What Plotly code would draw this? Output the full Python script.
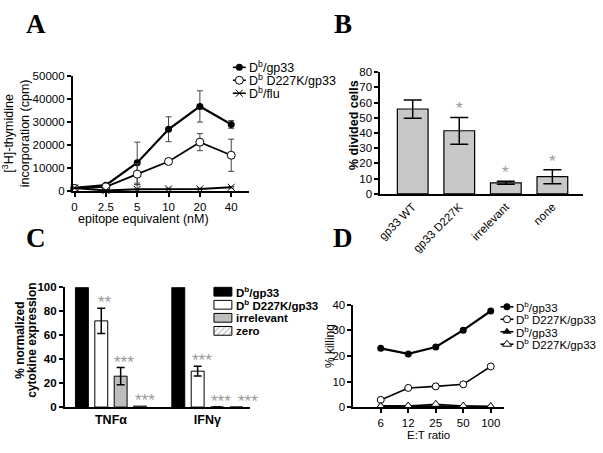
import plotly.graph_objects as go

W, H = 603, 453
FONT = "Liberation Sans, Arial, sans-serif"
SERIF = "Liberation Serif, Times New Roman, serif"
STAR_GRAY = "#9a9a9a"

# ---------------- Panel A data ----------------
A_DOSES = ["0", "2.5", "5", "10", "20", "40"]
A_GP33 = [1400, 2500, 12300, 26800, 36700, 28900]
A_GP33_ERR = [300, 500, 8900, 5400, 6800, 1700]
A_D227K = [1100, 1800, 7300, 12800, 21200, 15500]
A_D227K_ERR = [300, 400, 4500, 1200, 3700, 7000]
A_FLU = [1300, 200, 700, 900, 900, 1600]
A_FLU_ERR = [300, 200, 2000, 300, 300, 300]
A_NAMES = ["D<sup>b</sup>/gp33", "D<sup>b</sup> D227K/gp33", "D<sup>b</sup>/flu"]

# ---------------- Panel B data ----------------
B_LABELS = ["gp33 WT", "gp33 D227K", "irrelevant", "none"]
B_VALUES = [55.8, 41.5, 7.3, 11.3]
B_ERR = [6.0, 8.8, 1.0, 4.6]
B_STARS = ["", "*", "*", "*"]

# ---------------- Panel C data ----------------
C_GROUPS = ["TNF\u03b1", "IFN\u03b3"]
C_NAMES = ["D<sup>b</sup>/gp33", "D<sup>b</sup> D227K/gp33", "irrelevant", "zero"]
C_GP33 = [100, 100]
C_D227K = [72, 30]
C_D227K_ERR = [10.5, 4.0]
C_IRR = [25.8, 0]
C_IRR_ERR = [7.2, 0]
C_ZERO = [0.8, 0]
C_D227K_STARS = ["**", "***"]
C_IRR_STARS = ["***", "***"]
C_ZERO_STARS = ["***", "***"]

# ---------------- Panel D data ----------------
D_RATIOS = ["6", "12", "25", "50", "100"]
D_S1 = [23.0, 20.8, 23.5, 30.1, 37.6]
D_S2 = [2.8, 7.5, 8.1, 8.9, 15.9]
D_S3 = [0.4, 0.4, 0.3, 0.3, 0.2]
D_S4 = [0.2, 0.4, 1.1, 0.4, 0.2]
D_NAMES = ["D<sup>b</sup>/gp33", "D<sup>b</sup> D227K/gp33",
           "D<sup>b</sup>/gp33", "D<sup>b</sup> D227K/gp33"]


def PX(x):
    return x / W


def PY(y):
    return 1 - y / H


fig = go.Figure()

# ---------- Panel A traces ----------
a_styles = [
    (A_GP33, A_GP33_ERR, dict(symbol="circle", size=7, color="black"), 2.2),
    (A_D227K, A_D227K_ERR, dict(symbol="circle", size=8, color="white",
                                line=dict(color="black", width=1)), 1.8),
    (A_FLU, A_FLU_ERR, dict(symbol="x-thin", size=7,
                            line=dict(color="black", width=1)), 2.0),
]
for vals, errs, mk, lw in a_styles:
    fig.add_trace(go.Scatter(
        x=A_DOSES, y=vals, mode="lines+markers", xaxis="x", yaxis="y",
        line=dict(color="black", width=lw), marker=mk, cliponaxis=False,
        error_y=dict(type="data", array=errs, color="#444", thickness=1, width=3),
        showlegend=False))

# ---------- Panel B ----------
fig.add_trace(go.Bar(
    x=B_LABELS, y=B_VALUES, xaxis="x2", yaxis="y2", width=0.66,
    marker=dict(color="#c8c8c8", line=dict(color="black", width=1.2)),
    error_y=dict(type="data", array=B_ERR, color="black", thickness=1.5, width=9),
    showlegend=False))

# ---------- Panel C ----------
C_PITCH = 0.201
C_WIDTH = 0.134
c_series = [
    (C_GP33, None, dict(color="black", line=dict(color="black", width=1))),
    (C_D227K, C_D227K_ERR, dict(color="white", line=dict(color="black", width=1))),
    (C_IRR, C_IRR_ERR, dict(color="#bebebe", line=dict(color="black", width=1))),
    (C_ZERO, None, dict(color="white", line=dict(color="black", width=1),
                        pattern=dict(shape="/", fgcolor="#777", size=4, solidity=0.3))),
]
for i, (vals, errs, mk) in enumerate(c_series):
    center = (i - 1.5) * C_PITCH
    kw = {}
    if errs is not None:
        kw["error_y"] = dict(type="data", array=errs, color="black", thickness=1.5, width=4)
    fig.add_trace(go.Bar(
        x=[0, 1], y=vals, xaxis="x3", yaxis="y3", width=C_WIDTH,
        offset=center - C_WIDTH / 2, marker=mk, showlegend=False, **kw))

# ---------- Panel D ----------
d_styles = [
    (D_S1, dict(symbol="circle", size=7, color="black"), 2.2),
    (D_S2, dict(symbol="circle", size=7, color="white", line=dict(color="black", width=1)), 1.6),
    (D_S3, dict(symbol="triangle-up", size=8, color="black"), 2.2),
    (D_S4, dict(symbol="triangle-up", size=8, color="white", line=dict(color="black", width=1)), 1.4),
]
for vals, mk, lw in d_styles:
    fig.add_trace(go.Scatter(
        x=D_RATIOS, y=vals, mode="lines+markers", xaxis="x4", yaxis="y4",
        line=dict(color="black", width=lw), marker=mk, cliponaxis=False,
        showlegend=False))

annotations = []


# ---------- Legend glyphs (pixel overlay axis) ----------
def line_glyph(x0, x1, y, mk, lw):
    xm = (x0 + x1) / 2
    fig.add_trace(go.Scatter(x=[x0, x1], y=[y, y], mode="lines", xaxis="x5", yaxis="y5",
                             line=dict(color="black", width=lw), showlegend=False,
                             hoverinfo="skip"))
    fig.add_trace(go.Scatter(x=[xm], y=[y], mode="markers", xaxis="x5", yaxis="y5",
                             marker=mk, showlegend=False, hoverinfo="skip"))


def legend_text(x, y, text, size, bold=False):
    annotations.append(dict(
        x=PX(x), y=PY(y), xref="paper", yref="paper", text=text, showarrow=False,
        xanchor="left", yanchor="middle",
        font=dict(family=FONT, size=size, color="black", weight="bold" if bold else "normal")))


# Legend A
A_LEG_X0, A_LEG_Y0, A_LEG_DY = 231, 63, 13.3
for i, (name, (vals, errs, mk, lw)) in enumerate(zip(A_NAMES, a_styles)):
    y = A_LEG_Y0 + i * A_LEG_DY
    line_glyph(A_LEG_X0, A_LEG_X0 + 13, y, mk, 1.6)
    legend_text(A_LEG_X0 + 14, y, name, 12.5)

# Legend C (boxes)
C_LEG_X0, C_LEG_Y0, C_LEG_DY = 212, 293.5, 13.4
for i, (name, (vals, errs, mk)) in enumerate(zip(C_NAMES, c_series)):
    y = C_LEG_Y0 + i * C_LEG_DY
    fill = mk["color"]
    kw = {}
    if "pattern" in mk:
        kw["fillpattern"] = dict(shape="/", fgcolor="#777", bgcolor="white", size=4, solidity=0.3)
    fig.add_trace(go.Scatter(
        x=[C_LEG_X0, C_LEG_X0 + 18, C_LEG_X0 + 18, C_LEG_X0, C_LEG_X0],
        y=[y - 4.5, y - 4.5, y + 4.5, y + 4.5, y - 4.5],
        mode="lines", fill="toself", fillcolor=fill, xaxis="x5", yaxis="y5",
        line=dict(color="black", width=1), showlegend=False, hoverinfo="skip", **kw))
    legend_text(C_LEG_X0 + 20, y, name, 11.5, bold=True)

# Legend D
D_LEG_X0, D_LEG_Y0, D_LEG_DY = 500, 309, 12.8
for i, (name, (vals, mk, lw)) in enumerate(zip(D_NAMES, d_styles)):
    y = D_LEG_Y0 + i * D_LEG_DY
    line_glyph(D_LEG_X0, D_LEG_X0 + 13, y, mk, 1.6)
    legend_text(D_LEG_X0 + 14, y, name, 11.5)

# ---------- Stars ----------
for lab, v, e, s in zip(B_LABELS, B_VALUES, B_ERR, B_STARS):
    if s:
        annotations.append(dict(x=lab, y=v + e, xref="x2", yref="y2", text=s,
                                showarrow=False, yanchor="bottom", yshift=-3,
                                font=dict(family=FONT, size=17, color=STAR_GRAY)))
C_STAR_XSHIFT = [[4, 4], [3, 4], [5, 12]]
for i, (vals, errs, stars) in enumerate([(C_D227K, C_D227K_ERR, C_D227K_STARS),
                                          (C_IRR, C_IRR_ERR, C_IRR_STARS),
                                          (C_ZERO, [0, 0], C_ZERO_STARS)]):
    center = (i + 1 - 1.5) * C_PITCH
    for g in range(2):
        annotations.append(dict(x=g + center, y=vals[g] + errs[g], xref="x3", yref="y3",
                                text=stars[g], showarrow=False, yanchor="bottom", yshift=-6,
                                xshift=C_STAR_XSHIFT[i][g],
                                font=dict(family=FONT, size=17, color=STAR_GRAY)))

# ---------- Panel letters ----------
for letter, cx, cy in [("A", 33, 19), ("B", 342, 18), ("C", 33, 238), ("D", 342, 238)]:
    annotations.append(dict(x=PX(cx), y=PY(cy), xref="paper", yref="paper", text=letter,
                            showarrow=False, xanchor="center", yanchor="middle",
                            font=dict(family=SERIF, size=27, color="black", weight="bold")))


# ---------- Axis titles ----------
def title(x, y, text, size, angle=0, bold=False):
    annotations.append(dict(x=PX(x), y=PY(y), xref="paper", yref="paper", text=text,
                            showarrow=False, xanchor="center", yanchor="middle",
                            textangle=angle,
                            font=dict(family=FONT, size=size, color="black",
                                      weight="bold" if bold else "normal")))


title(141, 219, "epitope equivalent (nM)", 12.5)
title(353, 122, "% divided cells", 12.5, -90, bold=True)
title(17, 343, "% normalized", 12, -90, bold=True)
title(29, 343, "cytokine expression", 12, -90, bold=True)
title(328, 349, "% killing", 12, -90)
title(428, 441, "E:T ratio", 11.5)

ax = dict(showline=True, linecolor="black", linewidth=1.5, ticks="outside", ticklen=4,
          tickwidth=1.5, tickcolor="black", showgrid=False, zeroline=False,
          tickfont=dict(family=FONT, size=11.5, color="black"))
axb = dict(ax, tickfont=dict(family=FONT, size=11.5, color="black", weight="bold"))

fig.update_layout(
    width=W, height=H, margin=dict(l=0, r=0, t=0, b=0),
    paper_bgcolor="white", plot_bgcolor="rgba(0,0,0,0)",
    showlegend=False, bargap=0.2,
    xaxis=dict(ax, domain=[PX(70), PX(247)], anchor="y", type="category",
               range=[-0.06, 5.56]),
    yaxis=dict(ax, domain=[PY(190), PY(71.7)], anchor="x", range=[0, 50000],
               dtick=10000, tickformat="d",
               title=dict(text="[<sup>3</sup>H]-thymidine<br>incorporation (cpm)",
                          standoff=2, font=dict(family=FONT, size=12.5, color="black"))),
    xaxis2=dict(ax, domain=[PX(379), PX(583)], anchor="y2", type="category",
                range=[-0.7, 3.66], tickangle=-45, ticks=""),
    yaxis2=dict(ax, domain=[PY(193), PY(68)], anchor="x2", range=[0, 80], dtick=10),
    xaxis3=dict(axb, domain=[PX(62), PX(248)], anchor="y3", range=[-0.48, 1.44],
                tickvals=[0, 1], ticktext=C_GROUPS, ticks="",
                tickfont=dict(family=FONT, size=12.5, color="black", weight="bold")),
    yaxis3=dict(axb, domain=[PY(412), PY(289)], anchor="x3", range=[0, 100], dtick=20),
    xaxis4=dict(ax, domain=[PX(352), PX(504)], anchor="y4", type="category",
                range=[-1, 4.5]),
    yaxis4=dict(ax, domain=[PY(412), PY(307)], anchor="x4", range=[0, 40], dtick=10),
    xaxis5=dict(domain=[0, 1], anchor="y5", range=[0, W], visible=False, fixedrange=True),
    yaxis5=dict(domain=[0, 1], anchor="x5", range=[H, 0], visible=False, fixedrange=True),
    annotations=annotations,
)

fig.write_html("out.html", config={"displayModeBar": False},
               post_script="document.body.style.margin='0';document.body.style.overflow='hidden';")
